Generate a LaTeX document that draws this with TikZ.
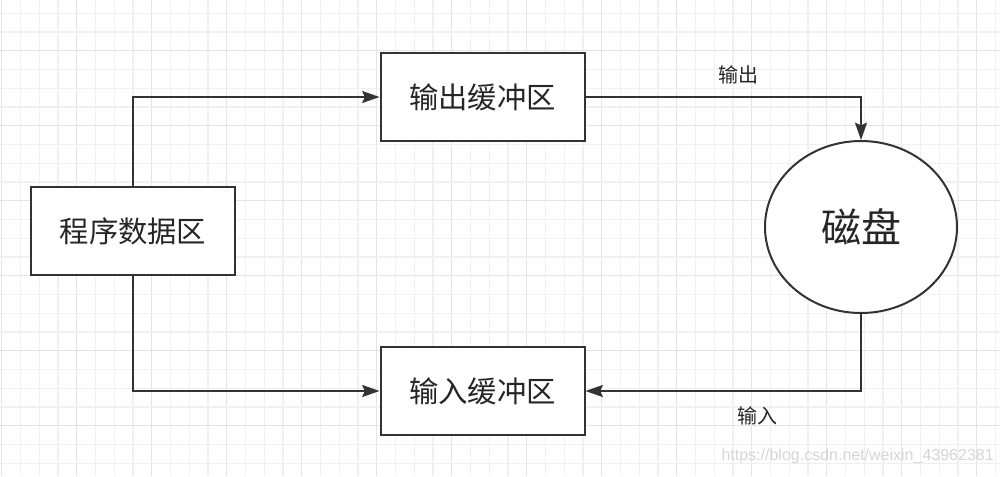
\documentclass[tikz,border=0pt]{standalone}
\usepackage{fontspec}
\newfontfamily\cjk{Noto Sans CJK SC}
\newfontfamily\wmfont{Liberation Sans}
\usetikzlibrary{arrows.meta,shapes.geometric}
\definecolor{lc}{HTML}{333333}
\definecolor{gminor}{HTML}{F0F0F0}
\definecolor{gmajor}{HTML}{E4E4E4}
\definecolor{wm}{HTML}{D6D6D6}
\tikzset{
  boxnode/.style={draw=lc, line width=1.5pt, fill=white, minimum width=153pt, minimum height=66pt, inner sep=0pt, font=\cjk\fontsize{22}{26}\selectfont, text=black!85},
  disknode/.style={ellipse, draw=lc, line width=1.5pt, fill=white, minimum width=144pt, minimum height=129pt, inner sep=0pt, font=\cjk\fontsize{30}{34}\selectfont, text=black!85},
  lbl/.style={font=\cjk\fontsize{15}{18}\selectfont, text=black!85, inner sep=0pt},
  arr/.style={draw=lc, line width=1.5pt, -{Stealth[length=13pt, width=9pt, inset=2pt]}},
}
\begin{document}
\begin{tikzpicture}[x=0.75pt, y=-0.75pt]
\useasboundingbox (0,0) rectangle (1000,476);
\fill[white] (0,0) rectangle (1000,476);
% grid
\foreach \k in {0,...,53} {
  \pgfmathsetmacro\gx{1.7+18.75*\k}
  \pgfmathtruncatemacro\mm{mod(\k,4)}
  \ifnum\mm=0
    \draw[gmajor, line width=0.9pt] (\gx,0) -- (\gx,476);
  \else
    \draw[gminor, line width=0.9pt] (\gx,0) -- (\gx,476);
  \fi
}
\foreach \m in {0,...,25} {
  \pgfmathsetmacro\gy{13.3+18.75*\m}
  \pgfmathtruncatemacro\mm{mod(\m,4)}
  \ifnum\mm=2
    \draw[gmajor, line width=0.9pt] (0,\gy) -- (1000,\gy);
  \else
    \draw[gminor, line width=0.9pt] (0,\gy) -- (1000,\gy);
  \fi
}
% nodes
\node[boxnode] (prog) at (133,231) {程序数据区};
\node[boxnode] (out) at (482.5,97) {输出缓冲区};
\node[boxnode] (in) at (482.5,391) {输入缓冲区};
\node[disknode] (disk) at (861,227) {磁盘};
% connectors
\draw[arr] (prog.north) |- (out.west);
\draw[arr] (prog.south) |- (in.west);
\draw[arr] (out.east) -| (disk.north);
\draw[arr] (disk.south) |- (in.east);
% labels
\node[lbl] (lout) at (738,75) {输出};
\node[lbl] (lin) at (757,416) {输入};
% watermark
\node[font=\wmfont\fontsize{12}{14}\selectfont, text=wm, anchor=east, inner sep=0pt] (wmark) at (994,456) {https://blog.csdn.net/weixin\_43962381};
\end{tikzpicture}
\end{document}
